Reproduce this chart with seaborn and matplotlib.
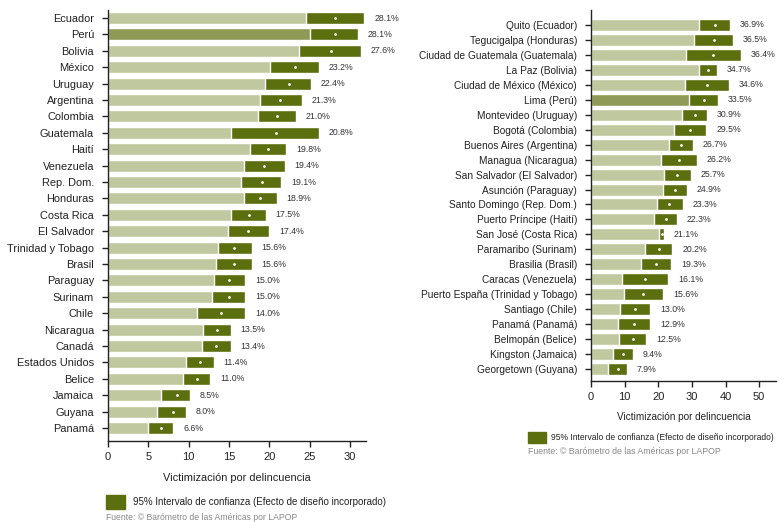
import numpy as np
import pandas as pd
import matplotlib
matplotlib.use("Agg")
import matplotlib.pyplot as plt
from matplotlib.patches import Rectangle
import seaborn as sns

# ---------------- data: countries ----------------
countries = ["Ecuador", "Perú", "Bolivia", "México", "Uruguay", "Argentina", "Colombia",
             "Guatemala", "Haití", "Venezuela", "Rep. Dom.", "Honduras", "Costa Rica",
             "El Salvador", "Trinidad y Tobago", "Brasil", "Paraguay", "Surinam", "Chile",
             "Nicaragua", "Canadá", "Estados Unidos", "Belice", "Jamaica", "Guyana", "Panamá"]
country_mean = [28.1, 28.1, 27.6, 23.2, 22.4, 21.3, 21.0, 20.8, 19.8, 19.4, 19.1, 18.9, 17.5,
                17.4, 15.6, 15.6, 15.0, 15.0, 14.0, 13.5, 13.4, 11.4, 11.0, 8.5, 8.0, 6.6]
country_low = [24.5, 25.1, 23.7, 20.1, 19.5, 18.8, 18.6, 15.3, 17.6, 16.9, 16.5, 16.9, 15.3,
               14.9, 13.6, 13.4, 13.1, 12.9, 11.1, 11.8, 11.6, 9.7, 9.3, 6.6, 6.1, 5.0]
country_high = [31.8, 31.0, 31.4, 26.2, 25.2, 24.0, 23.3, 26.2, 22.1, 21.9, 21.5, 20.9, 19.6,
                20.0, 17.8, 17.8, 17.0, 17.0, 17.0, 15.2, 15.2, 13.1, 12.7, 10.2, 9.7, 8.1]
country_highlight = "Perú"

# ---------------- data: capital cities ----------------
cities = ["Quito (Ecuador)", "Tegucigalpa (Honduras)", "Ciudad de Guatemala (Guatemala)",
          "La Paz (Bolivia)", "Ciudad de México (México)", "Lima (Perú)",
          "Montevideo (Uruguay)", "Bogotá (Colombia)", "Buenos Aires (Argentina)",
          "Managua (Nicaragua)", "San Salvador (El Salvador)", "Asunción (Paraguay)",
          "Santo Domingo (Rep. Dom.)", "Puerto Príncipe (Haití)", "San José (Costa Rica)",
          "Paramaribo (Surinam)", "Brasilia (Brasil)", "Caracas (Venezuela)",
          "Puerto España (Trinidad y Tobago)", "Santiago (Chile)", "Panamá (Panamá)",
          "Belmopán (Belice)", "Kingston (Jamaica)", "Georgetown (Guyana)"]
city_mean = [36.9, 36.5, 36.4, 34.7, 34.6, 33.5, 30.9, 29.5, 26.7, 26.2, 25.7, 24.9,
             23.3, 22.3, 21.1, 20.2, 19.3, 16.1, 15.6, 13.0, 12.9, 12.5, 9.4, 7.9]
city_low = [32.2, 30.7, 28.3, 32.2, 28.0, 29.2, 27.1, 24.8, 23.3, 20.9, 21.8, 21.5,
            19.7, 18.8, 20.3, 16.1, 15.0, 9.3, 9.9, 8.7, 8.1, 8.4, 6.6, 5.1]
city_high = [41.4, 42.3, 44.7, 37.5, 41.1, 37.8, 34.6, 34.3, 30.4, 31.6, 29.8, 28.6,
             27.4, 25.6, 21.8, 24.2, 23.9, 23.0, 21.5, 17.6, 17.6, 16.4, 12.6, 10.8]
city_highlight = "Lima (Perú)"

xlabel = "Victimización por delincuencia"
legend_text = "95% Intervalo de confianza (Efecto de diseño incorporado)"
source_text = "Fuente: © Barómetro de las Américas por LAPOP"

LIGHT = "#c0c8a0"
HIGH = "#8e9a55"
DARK = "#5b6f0f"
TXT = "#222222"

sns.set_theme(style="white")
plt.rcParams["font.family"] = ["Liberation Sans", "DejaVu Sans"]
plt.rcParams["axes.edgecolor"] = "#222222"
plt.rcParams["axes.linewidth"] = 1.0


def panel(ax, names, mean, low, high, highlight, xmax, xticks, bar_h, ylim,
          ylab_size, xlab_size, labelpad):
    df = pd.DataFrame({"name": names, "mean": mean, "low": low, "high": high})
    df["hl"] = np.where(df["name"] == highlight, "h", "n")
    sns.barplot(data=df, y="name", x="high", color=DARK, saturation=1, width=bar_h,
                orient="h", ax=ax, order=names)
    sns.barplot(data=df, y="name", x="low", hue="hl", palette={"h": HIGH, "n": LIGHT},
                saturation=1, width=bar_h, dodge=False, legend=False, orient="h",
                ax=ax, order=names)
    sns.stripplot(data=df, y="name", x="mean", jitter=False, color="white", size=2.0,
                  linewidth=0, orient="h", ax=ax, order=names)
    for i, (m, h) in enumerate(zip(mean, high)):
        ax.annotate(f"{m:.1f}%", xy=(h, i), xytext=(7, 0), textcoords="offset points",
                    ha="left", va="center", fontsize=6.3, color="#333333")
    ax.set_xlim(0, xmax)
    ax.set_xticks(xticks)
    ax.set_ylim(*ylim)
    ax.set_ylabel("")
    ax.set_xlabel(xlabel, fontsize=xlab_size, color=TXT, labelpad=labelpad)
    sns.despine(ax=ax)
    ax.tick_params(axis="y", length=4, width=1, pad=6, labelsize=ylab_size, labelcolor=TXT,
                   left=True, color="#222222")
    ax.tick_params(axis="x", length=4, width=1, pad=4, labelsize=8, labelcolor=TXT,
                   bottom=True, color="#222222")


fig = plt.figure(figsize=(7.84, 5.22), dpi=100)
W, H = 784, 522

axL = fig.add_axes([108 / W, 1 - 441 / H, (366 - 108) / W, (441 - 10) / H])
panel(axL, countries, country_mean, country_low, country_high, country_highlight,
      32, [0, 5, 10, 15, 20, 25, 30], 0.73, (25.79, -0.49), 7.9, 7.9, 8)

axR = fig.add_axes([591 / W, 1 - 381 / H, (776 - 591) / W, (381 - 10) / H])
panel(axR, cities, city_mean, city_low, city_high, city_highlight,
      55, [0, 10, 20, 30, 40, 50], 0.8, (23.8, -1.0), 7.3, 7.2, 7)

# legends / sources
fig.add_artist(Rectangle((106 / W, 1 - 509 / H), 19 / W, 14 / H, color=DARK,
                         transform=fig.transFigure))
fig.text(133 / W, 1 - 502 / H, legend_text, fontsize=7.0, color=TXT, va="center", ha="left")
fig.text(106 / W, 1 - 518 / H, source_text, fontsize=6.2, color="#888888", va="center", ha="left")

fig.add_artist(Rectangle((528 / W, 1 - 443 / H), 18 / W, 11 / H, color=DARK,
                         transform=fig.transFigure))
fig.text(551 / W, 1 - 437.5 / H, legend_text, fontsize=6.15, color=TXT, va="center", ha="left")
fig.text(528 / W, 1 - 451 / H, source_text, fontsize=6.3, color="#888888", va="center", ha="left")

fig.savefig("out.png", dpi=100)
